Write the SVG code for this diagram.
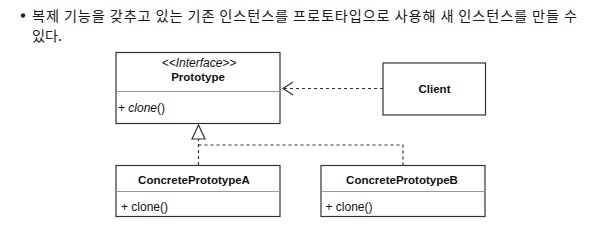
<svg xmlns="http://www.w3.org/2000/svg" width="598" height="246" viewBox="0 0 598 246">
  <style>
    .title { font-family: "Noto Sans CJK KR", "Liberation Sans", sans-serif; font-size: 14.2px; fill: #1a1a1a; }
    .box { fill: #fff; stroke: #333; stroke-width: 1.2; }
    .div { stroke: #999; stroke-width: 1; }
    .t { font-family: "Liberation Sans", Arial, sans-serif; font-size: 12px; fill: #111; }
    .b { font-weight: bold; font-size: 11.5px; }
    .i { font-style: italic; }
    .dash { fill: none; stroke: #333; stroke-width: 1.2; stroke-dasharray: 3 3; }
  </style>
  <rect width="598" height="246" fill="#fff"/>
  <g id="title">
    <circle cx="23" cy="15.5" r="2.2" fill="#222"/>
    <text class="title" x="32" y="21" textLength="545" lengthAdjust="spacing">복제 기능을 갖추고 있는 기존 인스턴스를 프로토타입으로 사용해 새 인스턴스를 만들 수</text>
    <text class="title" x="32" y="41">있다.</text>
  </g>
  <g id="connectors">
    <path class="dash" d="M383 88.5 H283"/>
    <path d="M293 82 L283 88.5 L293 95" fill="none" stroke="#333" stroke-width="1.2"/>
    <path class="dash" d="M198.5 165 V139 M198.5 145 H403 V165"/>
    <path d="M198.5 125 L192 139 H205 Z" fill="#fff" stroke="#333" stroke-width="1.2"/>
  </g>
  <g id="prototype">
    <rect class="box" x="116" y="52.5" width="164" height="71"/>
    <line class="div" x1="116" y1="91.5" x2="280" y2="91.5"/>
    <text class="t i" x="199" y="66.5" text-anchor="middle" font-size="11.5">&lt;&lt;Interface&gt;&gt;</text>
    <text class="t b" x="198" y="81" text-anchor="middle">Prototype</text>
    <text class="t" x="118" y="111.5">+ <tspan class="i">clone</tspan>()</text>
  </g>
  <g id="client">
    <rect class="box" x="383" y="63" width="102.5" height="52"/>
    <text class="t b" x="434.5" y="93" text-anchor="middle">Client</text>
  </g>
  <g id="concreteA">
    <rect class="box" x="116" y="165.5" width="164" height="51"/>
    <line class="div" x1="116" y1="191.5" x2="280" y2="191.5"/>
    <text class="t b" x="194" y="183.5" text-anchor="middle">ConcretePrototypeA</text>
    <text class="t" x="121" y="210.5">+ clone()</text>
  </g>
  <g id="concreteB">
    <rect class="box" x="321" y="165.5" width="164" height="51"/>
    <line class="div" x1="321" y1="191.5" x2="485" y2="191.5"/>
    <text class="t b" x="402" y="183.5" text-anchor="middle">ConcretePrototypeB</text>
    <text class="t" x="325.5" y="210.5">+ clone()</text>
  </g>
</svg>
